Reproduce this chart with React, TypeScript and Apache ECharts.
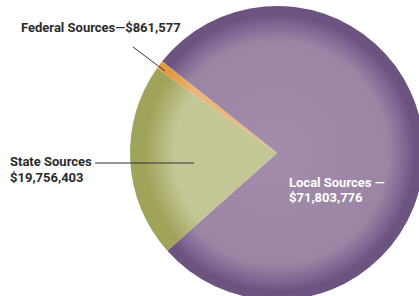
import React, { useEffect, useRef } from "react";
import * as echarts from "echarts";

const categories = ["Local Sources", "State Sources", "Federal Sources"];
const values = [71803776, 19756403, 861577];
const darkColors = ["#6d5480", "#a0a35a", "#e49a43"];
const lightColors = ["#a28dab", "#c4c795", "#ebb67a"];

const CX = 277;
const CY = 153;
const R = 147;

const fmt = (v: number) => "$" + v.toLocaleString("en-US");

export default function App() {
  const ref = useRef<HTMLDivElement>(null);
  useEffect(() => {
    document.body.style.margin = "0";
    const chart = echarts.init(ref.current!, undefined, { renderer: "svg" });
    const grad = (i: number) => ({
      type: "radial",
      x: CX,
      y: CY,
      r: R,
      global: true,
      colorStops:
        i === 0
          ? [
              { offset: 0, color: lightColors[0] },
              { offset: 0.76, color: "#9b85a4" },
              { offset: 0.88, color: "#7d6591" },
              { offset: 0.94, color: darkColors[0] },
              { offset: 1, color: darkColors[0] },
            ]
          : [
              { offset: 0, color: lightColors[i] },
              { offset: 0.7, color: lightColors[i] },
              { offset: 0.9, color: darkColors[i] },
              { offset: 1, color: darkColors[i] },
            ],
    });
    const font = "Roboto, 'Noto Sans', sans-serif";
    chart.setOption({
      animation: false,
      series: [
        {
          type: "pie",
          center: [CX, CY],
          radius: [0, R],
          startAngle: 141.4,
          clockwise: true,
          z: 1,
          label: { show: false },
          labelLine: { show: false },
          emphasis: { disabled: true },
          itemStyle: { borderWidth: 0 },
          data: categories.map((c, i) => ({
            name: c,
            value: values[i],
            itemStyle: { color: grad(i) },
          })),
        },
      ],
      graphic: {
        elements: [
          {
            type: "text",
            left: 21,
            top: 21,
            z: 100,
            style: {
              text: categories[2] + "—" + fmt(values[2]),
              fill: "#2b2b2b",
              font: "bold 13px " + font,
            },
          },
          {
            type: "line",
            z: 100,
            shape: { x1: 133, y1: 47, x2: 165, y2: 71 },
            style: { stroke: "#333", lineWidth: 1 },
          },
          {
            type: "text",
            left: 10,
            top: 153,
            z: 100,
            style: {
              text: categories[1] + "\n" + fmt(values[1]),
              fill: "#2b2b2b",
              font: "bold 13px " + font,
              lineHeight: 16,
            },
          },
          {
            type: "line",
            z: 100,
            shape: { x1: 95, y1: 163, x2: 194, y2: 163 },
            style: { stroke: "#333", lineWidth: 1 },
          },
          {
            type: "text",
            left: 289,
            top: 175,
            z: 100,
            style: {
              text: categories[0] + " —\n" + fmt(values[0]),
              fill: "#ffffff",
              font: "bold 13px " + font,
              lineHeight: 15,
            },
          },
        ],
      },
    });
    return () => chart.dispose();
  }, []);
  return <div ref={ref} style={{ width: 419, height: 296 }} />;
}
